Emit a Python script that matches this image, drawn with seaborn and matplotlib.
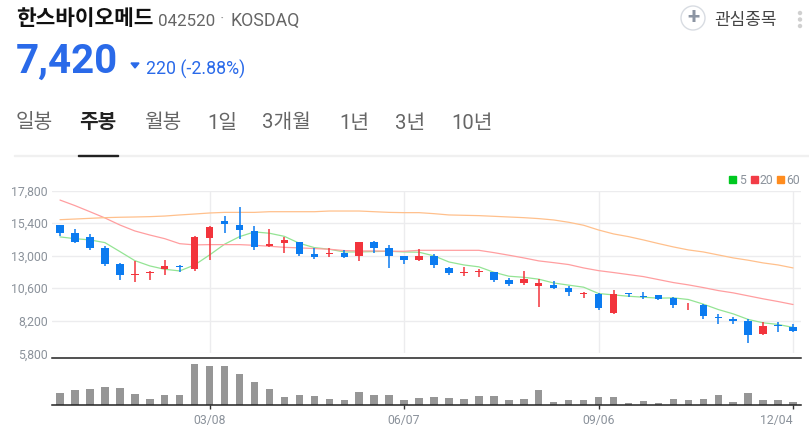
# weekly candle chart with moving averages and volume

import pandas as pd
import seaborn as sns
import matplotlib.pyplot as plt
from matplotlib.patches import Circle, Polygon, Rectangle

sns.set_theme(style="white")
plt.rcParams['font.family'] = ['Roboto', 'Noto Sans CJK KR', 'DejaVu Sans']

# ------------------------ Chart values ------------------------
opens = [15270, 14660, 14360, 13580, 12400, 11560, 11690, 12050, 12250, 12050,
         14290, 15590, 15270, 14850, 13700, 13920, 13990, 13130, 13160, 13180,
         13010, 13990, 13550, 12960, 12720, 13010, 12100, 11690, 11780, 11780,
         11190, 10970, 10800, 10830, 10630, 10160, 10190, 8740, 10240, 10040,
         10090, 9870, 9330, 9380, 8490, 8320, 8200, 7190, 7900, 7730]
highs = [15270, 14950, 14580, 13720, 12450, 12640, 11880, 12690, 12300, 14480,
         15170, 15910, 16600, 15200, 14950, 14390, 13990, 13550, 13550, 13400,
         14020, 14090, 13770, 12960, 13530, 13110, 12180, 12150, 12030, 11780,
         11340, 11880, 11270, 11120, 10800, 10330, 10240, 10480, 10240, 10330,
         10090, 9940, 9520, 9430, 8710, 8490, 8320, 8120, 8120, 7980]
lows = [14480, 13970, 13400, 12250, 11240, 11050, 11240, 11590, 11810, 11900,
        12720, 14700, 14260, 13450, 13620, 13230, 13010, 12790, 12890, 12860,
        12640, 13230, 12130, 12420, 12640, 12130, 11590, 11540, 11460, 11070,
        10800, 10830, 9200, 10580, 10060, 9870, 9030, 8710, 9960, 9840,
        9720, 9180, 9030, 8300, 7930, 7930, 6530, 7140, 7340, 7390]
closes = [14700, 14040, 13600, 12420, 11610, 11660, 11810, 12220, 12200, 14360,
          15100, 15370, 14930, 13670, 13870, 14170, 13160, 12910, 13230, 12940,
          14020, 13550, 13010, 12720, 13010, 12300, 11690, 11780, 11880, 11240,
          10950, 11270, 10970, 10650, 10290, 10240, 9130, 10190, 10160, 9960,
          9840, 9380, 9400, 8520, 8370, 8220, 7170, 7830, 7800, 7410]
ma5 = [14390, 14260, 14170, 13970, 13310, 12640, 12250, 12000, 11880, 12320,
       13060, 13850, 14410, 14760, 14660, 14430, 13920, 13600, 13480, 13280,
       13280, 13310, 13330, 13280, 13260, 12990, 12540, 12320, 12180, 11780,
       11490, 11410, 11270, 10990, 10830, 10680, 10210, 10110, 10010, 9940,
       9870, 9890, 9770, 9430, 9030, 8710, 8300, 8050, 7930, 7710]
ma20 = [17110, 16700, 16250, 15790, 15270, 14830, 14530, 14260, 13890, 13800,
        13820, 13820, 13820, 13770, 13700, 13620, 13580, 13530, 13480, 13380,
        13355, 13355, 13330, 13330, 13400, 13400, 13400, 13400, 13400, 13230,
        13040, 12840, 12620, 12490, 12350, 12100, 11900, 11760, 11610, 11460,
        11240, 11020, 10850, 10650, 10430, 10260, 10040, 9820, 9620, 9400]
ma60 = [15660, 15710, 15760, 15810, 15840, 15860, 15885, 15930, 16010, 16080,
        16155, 16200, 16200, 16200, 16250, 16250, 16250, 16250, 16300, 16300,
        16300, 16250, 16200, 16180, 16180, 16105, 16010, 15985, 15960, 15910,
        15860, 15810, 15740, 15640, 15470, 15250, 14900, 14610, 14410, 14165,
        13900, 13650, 13430, 13280, 13060, 12840, 12670, 12470, 12320, 12100]
volumes = [37, 45, 50, 54, 52, 35, 19, 31, 30, 124,
           118, 119, 94, 69, 50, 25, 31, 28, 20, 16,
           39, 31, 31, 16, 22, 24, 22, 20, 28, 28,
           16, 19, 46, 9, 16, 15, 25, 24, 7, 13,
           7, 19, 16, 20, 31, 10, 37, 15, 15, 10]
price_ticks = [5800, 8200, 10600, 13000, 15400, 17800]
date_ticks = [10, 23, 36, 49]
date_labels = ["03/08", "06/07", "09/06", "12/04"]
tabs = ["일봉", "주봉", "월봉", "1일", "3개월", "1년", "3년", "10년"]
ma_names = ["5", "20", "60"]

# ------------------------ Styles ------------------------
W, H = 809, 434
UP = "#f2343c"
DOWN = "#0b7bf0"
LABEL = "#8b929b"
GRID = "#ececee"
BLUE_TEXT = "#2a6ae9"
LINE_COLORS = {"5": "#94e494", "20": "#ff9ea0", "60": "#ffc08c"}
KEY_COLORS = {"5": "#00c820", "20": "#f23c46", "60": "#ff8c1e"}


def add_axes_px(fig, left, top, right, bottom):
    return fig.add_axes([left / W, 1 - bottom / H, (right - left) / W, (bottom - top) / H])


def put_text(fig, x, y, s, **kw):
    kw.setdefault("va", "center")
    fig.text(x / W, 1 - y / H, s, **kw)


def draw_prices(ax):
    df = pd.DataFrame({"week": range(len(opens)), "5": ma5, "20": ma20, "60": ma60})
    long_df = df.melt(id_vars="week", var_name="ma", value_name="price")
    sns.lineplot(data=long_df, x="week", y="price", hue="ma", palette=LINE_COLORS,
                 linewidth=0.9, legend=False, ax=ax, zorder=2)

    for i in range(len(opens)):
        color = UP if closes[i] >= opens[i] else DOWN
        ax.vlines(i, lows[i], highs[i], color=color, linewidth=1.1, zorder=3)
        ax.bar(i, abs(closes[i] - opens[i]), bottom=min(opens[i], closes[i]),
               width=0.5, color=color, linewidth=0, zorder=4)

    ax.set_ylim(price_ticks[0], price_ticks[-1])
    ax.set_yticks(price_ticks)
    ax.set_yticklabels([f"{v:,}" for v in price_ticks], color=LABEL, fontsize=8.8)
    ax.set_xticks(date_ticks)
    ax.tick_params(axis="x", length=0, labelbottom=False)
    ax.tick_params(axis="y", length=0, pad=3)
    ax.grid(True, color=GRID, linewidth=1)
    ax.get_ygridlines()[0].set_color("#f6f6f7")
    ax.set_axisbelow(True)
    ax.set_xlabel("")
    ax.set_ylabel("")
    sns.despine(ax=ax, left=True, bottom=True)


def draw_volume(ax):
    df = pd.DataFrame({"week": range(len(volumes)), "volume": volumes})
    sns.barplot(data=df, x="week", y="volume", native_scale=True, width=0.5,
                color="#969696", saturation=1, linewidth=0, ax=ax)
    ax.set_ylim(0, 141)
    ax.set_yticks([])
    ax.set_xticks(date_ticks)
    ax.set_xticklabels(date_labels, color=LABEL, fontsize=8.8)
    ax.get_xticklabels()[-1].set_ha("right")
    ax.tick_params(axis="x", length=3, width=1, color="#333333", pad=3, bottom=True)
    ax.set_xlabel("")
    ax.set_ylabel("")
    for side in ["left", "right"]:
        ax.spines[side].set_visible(False)
    for side in ["top", "bottom"]:
        ax.spines[side].set_color("#222222")
        ax.spines[side].set_linewidth(1.1)


def draw_header(fig):
    put_text(fig, 16, 19, "한스바이오메드", fontsize=15.4, fontweight="bold", color="#111111")
    put_text(fig, 158, 21, "042520", fontsize=12.2, color="#666666")
    put_text(fig, 222, 19, "·", fontsize=12, color="#999999", ha="center")
    put_text(fig, 231, 21, "KOSDAQ", fontsize=12.8, color="#666666")
    put_text(fig, 714, 20, "관심종목", fontsize=12.2, color="#444444")
    put_text(fig, 693, 18, "+", fontsize=16, fontweight="bold", color="#8c95a3", ha="center")
    fig.add_artist(Circle((693, H - 18), 12, transform=None, fill=False,
                          edgecolor="#d8dce2", linewidth=1))
    for y in (13, 19.5, 26):
        fig.add_artist(Circle((800, H - y), 1.5, transform=None, color="#d0d0d0"))

    put_text(fig, 16, 62, "7,420", fontsize=29, fontweight="bold", color=BLUE_TEXT)
    fig.add_artist(Polygon([(131, H - 63), (139, H - 63), (135, H - 68)], transform=None,
                           color=BLUE_TEXT))
    put_text(fig, 146, 69, "220 (-2.88%)", fontsize=12.8, color=BLUE_TEXT)

    tab_x = [16, 79, 144, 207, 262, 339, 395, 451]
    for name, x in zip(tabs, tab_x):
        active = name == "주봉"
        put_text(fig, x, 123, name, fontsize=14.6,
                 fontweight="bold" if active else "normal",
                 color="#222222" if active else "#666666")
    fig.add_artist(Rectangle((14, H - 155.5), 795, 1, transform=None, color="#f0f0f0"))
    fig.add_artist(Rectangle((78, H - 155.5), 40, 1, transform=None, color="#222222"))


def draw_key(fig):
    key_x = [(729, 739), (751, 760), (777, 786)]
    for name, (box, label) in zip(ma_names, key_x):
        fig.add_artist(Rectangle((box, H - 183), 7, 7, transform=None, color=KEY_COLORS[name]))
        put_text(fig, label, 180, name, fontsize=8.8, color=LABEL)


def main():
    fig = plt.figure(figsize=(W / 100, H / 100), dpi=100, facecolor="white")
    price_ax = add_axes_px(fig, 52, 190.7, 801, 353.3)
    volume_ax = add_axes_px(fig, 52, 358.3, 801, 405.3)

    draw_prices(price_ax)
    draw_volume(volume_ax)
    for ax in (price_ax, volume_ax):
        ax.set_xlim(-0.535, 49.53)

    draw_header(fig)
    draw_key(fig)
    fig.savefig("out.png", dpi=100)
    plt.close(fig)


if __name__ == "__main__":
    main()
